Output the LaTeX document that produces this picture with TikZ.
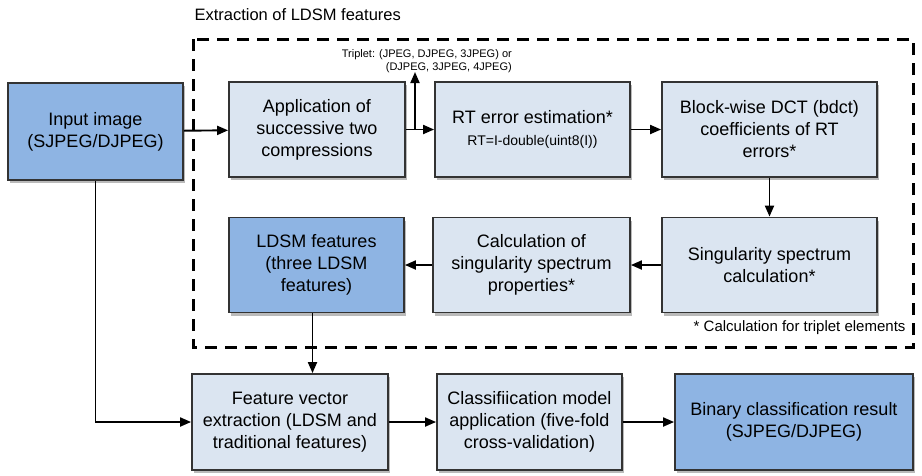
\documentclass[tikz,border=0pt]{standalone}
\usepackage{fontspec}
\setmainfont{Liberation Sans}
\usetikzlibrary{arrows.meta,shadows}

\definecolor{lightbox}{HTML}{DBE5F1}
\definecolor{darkbox}{HTML}{8EB4E3}
\definecolor{boxline}{HTML}{333333}

\tikzset{
  box/.style={draw=boxline, line width=1.8pt, fill=lightbox, align=center,
    minimum height=95pt, inner sep=2pt,
    font=\fontsize{18}{22}\selectfont,
    drop shadow={shadow xshift=2pt, shadow yshift=-3pt, fill=black!45, opacity=0.6}},
  keybox/.style={box, fill=darkbox},
  flow/.style={-{Triangle[length=11pt,width=9pt]}, line width=1.9pt}
}

\begin{document}
\begin{tikzpicture}[x=1pt,y=-1pt]
  \useasboundingbox (0,0) rectangle (922,475);

  % Extraction of LDSM features
  \draw[line width=3pt, dash pattern=on 12pt off 8pt] (193,39) rectangle (913,347);
  \node[anchor=west, font=\fontsize{16.5}{20}\selectfont] (title) at (191,15) {Extraction of LDSM features};
  \node[anchor=east, font=\fontsize{15}{18}\selectfont] (note) at (909,328) {* Calculation for triplet elements};

  % Top row
  \node[keybox, minimum width=175pt, minimum height=97pt] (input) at (95.5,131.5) {Input image\\(SJPEG/DJPEG)};
  \node[box, minimum width=176pt] (app) at (317,129.5) {Application of\\successive two\\compressions};
  \node[box, minimum width=195pt] (rt) at (532.5,129.5) {RT error estimation*\\{\fontsize{14}{17}\selectfont RT=I-double(uint8(I))}};
  \node[box, minimum width=215pt] (bdct) at (769.5,129.5) {Block-wise DCT (bdct)\\coefficients of RT\\errors*};

  % Middle row
  \node[box, minimum width=215pt] (sing) at (769.5,265) {Singularity spectrum\\calculation*};
  \node[box, minimum width=197pt] (calc) at (531.5,265) {Calculation of\\singularity spectrum\\properties*};
  \node[keybox, minimum width=175pt] (ldsm) at (316.5,265) {LDSM features\\(three LDSM\\features)};

  % Bottom row
  \node[box, minimum width=196pt, minimum height=96pt] (fve) at (290,422) {Feature vector\\extraction (LDSM and\\traditional features)};
  \node[box, minimum width=185pt, minimum height=96pt] (cls) at (529.5,422) {Classifiication model\\application (five-fold\\cross-validation)};
  \node[keybox, minimum width=238pt, minimum height=96pt] (bin) at (794,422) {Binary classification result\\(SJPEG/DJPEG)};

  % Triplet branch
  \coordinate (split) at (415,129.5);
  \coordinate (trip) at (415,72);
  \node[anchor=south east, align=right, font=\fontsize{11}{13.5}\selectfont, inner sep=1pt] (triplet) at (513,74)
    {Triplet: (JPEG, DJPEG, 3JPEG) or\\(DJPEG, 3JPEG, 4JPEG)};

  % Connectors
  \draw[flow] (input) -- (app);
  \draw[flow] (app) -- (rt);
  \draw[flow] (split) -- (trip);
  \draw[flow] (rt) -- (bdct);
  \draw[flow] (bdct) -- (sing);
  \draw[flow] (sing) -- (calc);
  \draw[flow] (calc) -- (ldsm);
  \draw[flow] ([xshift=-4pt]ldsm.south) -- ([xshift=-4pt]ldsm.south |- fve.north);
  \draw[flow] (input.south) |- (fve.west);
  \draw[flow] (fve) -- (cls);
  \draw[flow] (cls) -- (bin);

\end{tikzpicture}
\end{document}
